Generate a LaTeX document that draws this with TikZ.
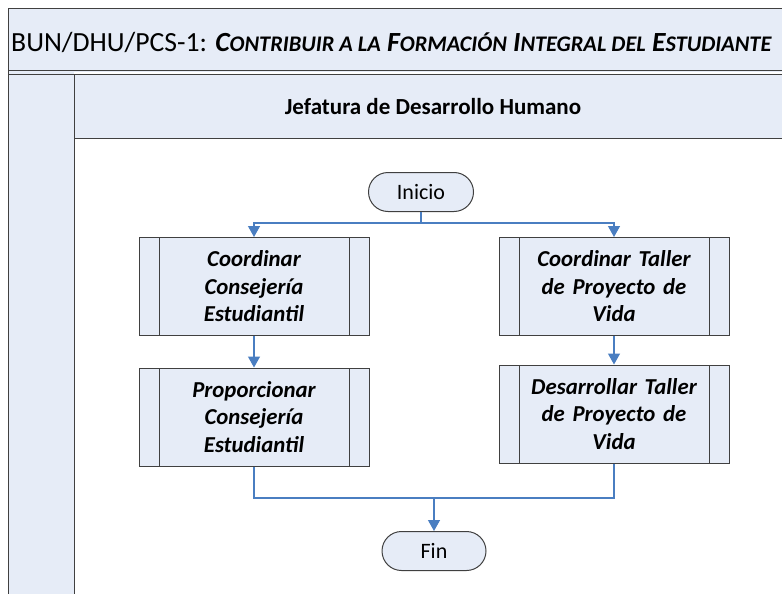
\documentclass[tikz,border=0pt]{standalone}
\usepackage{fontspec}
\setmainfont{Carlito}
\usetikzlibrary{arrows.meta}
\definecolor{paleblue}{RGB}{230,236,247}
\definecolor{framegray}{RGB}{64,64,64}
\definecolor{connblue}{RGB}{74,126,193}
\newcommand\smc[1]{{\fontsize{22.3}{22.3}\selectfont #1}}
\tikzset{
  frameline/.style={draw=framegray, line width=1pt},
  procbox/.style={draw=framegray, line width=1pt, fill=paleblue, minimum width=230pt, minimum height=98pt,
    text width=190pt, align=center, inner sep=0pt,
    font=\fontsize{22.8}{27.5}\selectfont\bfseries\itshape,
    path picture={
      \draw[framegray, line width=1pt] ([xshift=20pt]path picture bounding box.north west) -- ([xshift=20pt]path picture bounding box.south west);
      \draw[framegray, line width=1pt] ([xshift=-20pt]path picture bounding box.north east) -- ([xshift=-20pt]path picture bounding box.south east);
    }},
  termbox/.style={draw=framegray, line width=1pt, fill=paleblue, minimum width=105pt, minimum height=39pt,
    rounded corners=19.5pt, inner sep=0pt, font=\fontsize{22}{26}\selectfont},
  conn/.style={draw=connblue, line width=1.3pt},
  arr/.style={conn, -{Triangle[length=11pt,width=12pt]}},
}
\begin{document}
\begin{tikzpicture}[x=1pt,y=-1pt]
\useasboundingbox (0,0) rectangle (782,594);
\clip (0,0) rectangle (782,594);
% frame and bands
\fill[paleblue] (8,9) rectangle (800,72);
\fill[paleblue] (8,72) rectangle (74,620);
\fill[paleblue] (74,74) rectangle (800,138);
\draw[frameline] (800,9) -- (8,9) -- (8,620);
\draw[frameline] (8,71) -- (800,71);
\draw[frameline] (8,74.5) -- (800,74.5);
\draw[frameline] (74,74.5) -- (74,620);
\draw[frameline] (74,138) -- (800,138);
\node[anchor=base west, inner sep=0pt, font=\fontsize{27.7}{30}\selectfont] (title) at (11,52)
  {BUN/DHU/PCS-1: \textbf{\textit{C\smc{ONTRIBUIR A LA} F\smc{ORMACIÓN} I\smc{NTEGRAL DEL} E\smc{STUDIANTE}}}};
\node[font=\fontsize{23}{26}\selectfont\bfseries] (lane) at (433,107) {Jefatura de Desarrollo Humano};
% nodes
\node[termbox] (ini) at (421,192) {Inicio};
\node[procbox] (l1) at (254,286.5) {Coordinar\\Consejería\\Estudiantil};
\node[procbox] (l2) at (254,417) {Proporcionar\\Consejería\\Estudiantil};
\node[procbox] (r1) at (614,286.5) {Coordinar Taller\\de Proyecto de\\Vida};
\node[procbox] (r2) at (614,414) {Desarrollar Taller\\de Proyecto de\\Vida};
\node[termbox, minimum width=104pt] (fin) at (434,551) {Fin};
\coordinate (j1) at (421,223);
\coordinate (j2) at (434,498);
% connectors
\draw[conn] (ini.south) -- (j1);
\draw[arr] (j1) -| (l1.north);
\draw[arr] (j1) -| (r1.north);
\draw[arr] (l1.south) -- (l2.north);
\draw[arr] (r1.south) -- (r2.north);
\draw[conn] (l2.south) |- (j2);
\draw[conn] (r2.south) |- (j2);
\draw[arr] (j2) -- (fin.north);
\end{tikzpicture}
\end{document}
